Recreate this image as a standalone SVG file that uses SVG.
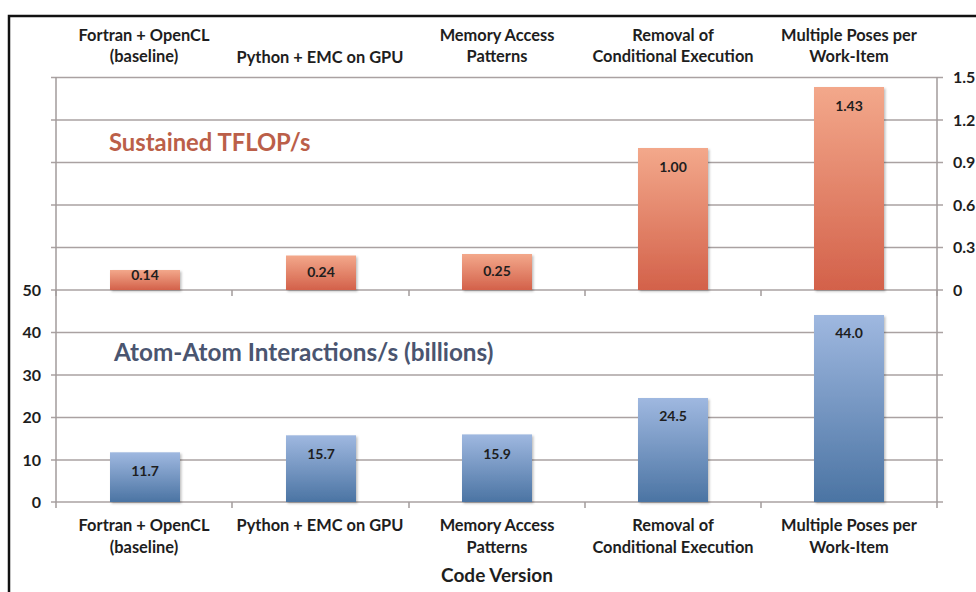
<svg xmlns="http://www.w3.org/2000/svg" width="976" height="592" viewBox="0 0 976 592">
  <defs>
    <linearGradient id="gradOrange" x1="0" y1="0" x2="0" y2="1">
      <stop offset="0" stop-color="#f3a88b"/>
      <stop offset="1" stop-color="#d3614a"/>
    </linearGradient>
    <linearGradient id="gradBlue" x1="0" y1="0" x2="0" y2="1">
      <stop offset="0" stop-color="#9fb8e0"/>
      <stop offset="1" stop-color="#4b74a3"/>
    </linearGradient>
    <filter id="shadow" x="-10%" y="-10%" width="130%" height="130%">
      <feDropShadow dx="1.5" dy="1.5" stdDeviation="1" flood-color="#000" flood-opacity="0.25"/>
    </filter>
  </defs>
  <style>
    text { font-family: Lato, "Open Sans", "Liberation Sans", sans-serif; font-weight: bold; fill: #1e1e1e; }
    .cat { font-size: 16.4px; text-anchor: middle; }
    .tick { font-size: 16px; }
    .ltick { text-anchor: end; }
    .val { font-size: 14px; text-anchor: middle; }
    .grid { stroke: #aaa2a2; stroke-width: 1.3; fill: none; }
    .axis { stroke: #a39c9c; stroke-width: 1.5; fill: none; }
    .barO { fill: url(#gradOrange); filter: url(#shadow); }
    .barB { fill: url(#gradBlue); filter: url(#shadow); }
  </style>

  <rect width="976" height="592" fill="#ffffff"/>

  <!-- outer frame -->
  <path d="M9,592 V16 H976" fill="none" stroke="#111" stroke-width="2.5"/>

  <!-- gridlines, shared value scale for both panels -->
  <g id="gridlines">
    <path class="grid" d="M51,77.5 H943 M51,120 H943 M51,162.5 H943 M51,205 H943 M51,247.5 H943 M51,290 H943 M51,332.5 H943 M51,375 H943 M51,417.5 H943 M51,460 H943 M51,502 H943"/>
  </g>

  <!-- axes and category ticks -->
  <g id="axes">
    <path class="axis" d="M56,77 V502 M937,77 V502"/>
    <path class="axis" d="M56,290 V296 M232,290 V296 M409,290 V296 M585,290 V296 M761,290 V296 M937,290 V296"/>
    <path class="axis" d="M56,502 V508 M232,502 V508 M409,502 V508 M585,502 V508 M761,502 V508 M937,502 V508"/>
  </g>

  <!-- left axis labels (interactions) -->
  <g id="left-axis-labels">
    <text class="tick ltick" x="41" y="296">50</text>
    <text class="tick ltick" x="41" y="338">40</text>
    <text class="tick ltick" x="41" y="381">30</text>
    <text class="tick ltick" x="41" y="423">20</text>
    <text class="tick ltick" x="41" y="466">10</text>
    <text class="tick ltick" x="41" y="508">0</text>
  </g>

  <!-- right axis labels (TFLOP/s) -->
  <g id="right-axis-labels">
    <text class="tick" x="953" y="83">1.5</text>
    <text class="tick" x="953" y="126">1.2</text>
    <text class="tick" x="953" y="168">0.9</text>
    <text class="tick" x="953" y="211">0.6</text>
    <text class="tick" x="953" y="253">0.3</text>
    <text class="tick" x="953" y="296">0</text>
  </g>

  <!-- category labels, top -->
  <g id="top-categories">
    <text class="cat" x="144" y="41">Fortran + OpenCL</text>
    <text class="cat" x="144" y="62">(baseline)</text>
    <text class="cat" x="320" y="63">Python + EMC on GPU</text>
    <text class="cat" x="497" y="41">Memory Access</text>
    <text class="cat" x="497" y="62">Patterns</text>
    <text class="cat" x="673" y="41">Removal of</text>
    <text class="cat" x="673" y="62">Conditional Execution</text>
    <text class="cat" x="849" y="41">Multiple Poses per</text>
    <text class="cat" x="849" y="62">Work-Item</text>
  </g>

  <!-- series titles -->
  <text id="title-tflops" x="109" y="151" style="font-size:23.8px; fill:#bb5f49">Sustained TFLOP/s</text>
  <text id="title-interactions" x="114" y="361" style="font-size:24.3px; fill:#4a5570">Atom-Atom Interactions/s (billions)</text>

  <!-- TFLOP/s bars -->
  <g id="tflops-bars">
    <g id="tf-fortran"><rect class="barO" x="110" y="270" width="70" height="20"/><text class="val" x="145" y="279.5">0.14</text></g>
    <g id="tf-python"><rect class="barO" x="286" y="255.5" width="70" height="34.5"/><text class="val" x="321" y="277">0.24</text></g>
    <g id="tf-memory"><rect class="barO" x="462" y="254" width="70" height="36"/><text class="val" x="497" y="276">0.25</text></g>
    <g id="tf-removal"><rect class="barO" x="638" y="148" width="70" height="142"/><text class="val" x="673" y="172">1.00</text></g>
    <g id="tf-poses"><rect class="barO" x="814" y="87" width="70" height="203"/><text class="val" x="849" y="111">1.43</text></g>
  </g>

  <!-- interaction bars -->
  <g id="interaction-bars">
    <g id="ai-fortran"><rect class="barB" x="110" y="452.3" width="70" height="49.7"/><text class="val" x="145" y="476">11.7</text></g>
    <g id="ai-python"><rect class="barB" x="286" y="435.3" width="70" height="66.7"/><text class="val" x="321" y="459">15.7</text></g>
    <g id="ai-memory"><rect class="barB" x="462" y="434.4" width="70" height="67.6"/><text class="val" x="497" y="459">15.9</text></g>
    <g id="ai-removal"><rect class="barB" x="638" y="398" width="70" height="104"/><text class="val" x="673" y="421">24.5</text></g>
    <g id="ai-poses"><rect class="barB" x="814" y="315" width="70" height="187"/><text class="val" x="849" y="338">44.0</text></g>
  </g>

  <!-- category labels, bottom -->
  <g id="bottom-categories">
    <text class="cat" x="144" y="531">Fortran + OpenCL</text>
    <text class="cat" x="144" y="553">(baseline)</text>
    <text class="cat" x="320" y="531">Python + EMC on GPU</text>
    <text class="cat" x="497" y="531">Memory Access</text>
    <text class="cat" x="497" y="553">Patterns</text>
    <text class="cat" x="673" y="531">Removal of</text>
    <text class="cat" x="673" y="553">Conditional Execution</text>
    <text class="cat" x="849" y="531">Multiple Poses per</text>
    <text class="cat" x="849" y="553">Work-Item</text>
  </g>

  <text id="x-title" x="497" y="582" style="font-size:19px; text-anchor:middle">Code Version</text>
</svg>
